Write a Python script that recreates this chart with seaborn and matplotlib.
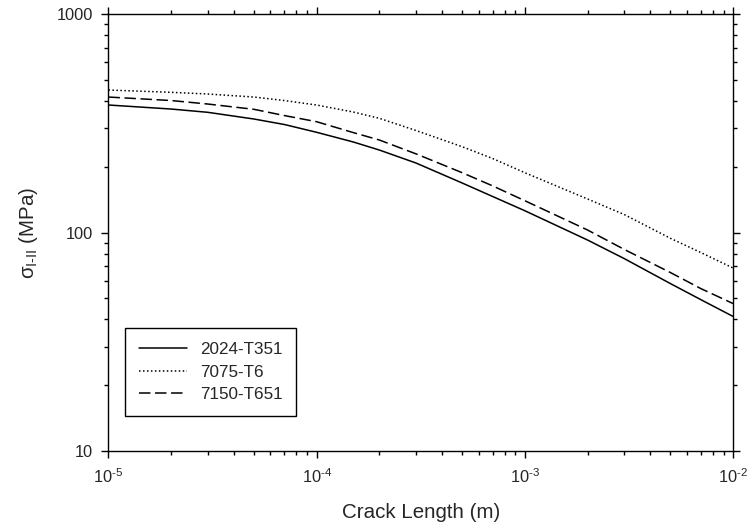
import pandas as pd
import numpy as np
import seaborn as sns
import matplotlib.pyplot as plt
from matplotlib.ticker import FuncFormatter

# crack length (m) and stress (MPa)
crack_length = [1e-5, 2e-5, 3e-5, 5e-5, 7e-5, 1e-4, 1.5e-4, 2e-4, 3e-4, 5e-4,
                7e-4, 1e-3, 2e-3, 3e-3, 5e-3, 7e-3, 1e-2]
sigma_2024 = [383.3, 367.4, 354.9, 330.7, 312.1, 287.5, 259.6, 238.5, 208.0,
              168.5, 146.2, 125.8, 92.4, 76.0, 58.4, 49.3, 41.3]
sigma_7075 = [448.9, 438.2, 430.4, 416.9, 401.8, 383.2, 356.0, 333.2, 293.0,
              247.0, 218.1, 187.8, 142.4, 120.9, 94.1, 81.0, 68.8]
sigma_7150 = [416.9, 401.8, 387.3, 366.3, 343.0, 321.4, 286.6, 265.1, 229.1,
              187.8, 163.5, 139.8, 102.7, 83.7, 65.6, 55.4, 47.3]
alloys = ['2024-T351', '7075-T6', '7150-T651']

df = pd.DataFrame({
    'a': crack_length * 3,
    'sigma': sigma_2024 + sigma_7075 + sigma_7150,
    'alloy': np.repeat(alloys, len(crack_length)),
})

sns.set_style('ticks')
plt.rcParams['font.family'] = ['Liberation Sans', 'DejaVu Sans']
plt.rcParams['mathtext.fontset'] = 'custom'
plt.rcParams['mathtext.rm'] = 'Liberation Sans'
plt.rcParams['mathtext.it'] = 'Liberation Sans:italic'
plt.rcParams['mathtext.default'] = 'regular'

fig = plt.figure(figsize=(7.47, 5.27), dpi=100)
ax = fig.add_axes([0.1452, 0.1442, 0.8361, 0.8292])
ax.set_xscale('log')
ax.set_yscale('log')

sns.lineplot(data=df, x='a', y='sigma', style='alloy', style_order=alloys,
             dashes={'2024-T351': '', '7075-T6': (1, 1.6), '7150-T651': (7.5, 3)},
             color='black', linewidth=1.1, legend=False, ax=ax)

ax.set_xlim(1e-5, 1e-2)
ax.set_ylim(10, 1000)
ax.set_yticks([10, 100, 1000])
ax.set_yticklabels(['10', '100', '1000'])
ax.xaxis.set_major_formatter(
    FuncFormatter(lambda v, p: r'10$^{\text{-%d}}$' % round(-np.log10(v))))

for s in ax.spines.values():
    s.set_visible(True)
    s.set_linewidth(1.0)
    s.set_color('black')

ax.tick_params(which='both', direction='out', top=True, right=True,
               color='black', width=1.0, labelsize=11.8)
ax.tick_params(which='major', length=5)
ax.tick_params(which='minor', length=2.6)
ax.tick_params(axis='y', which='major', pad=6)
ax.tick_params(axis='x', which='major', pad=7)

ax.set_xlabel('Crack Length (m)', fontsize=14.8, labelpad=12)
ax.set_ylabel(r'σ$_{\text{I-II}}$ (MPa)', fontsize=14.8, labelpad=12)

leg = ax.legend(ax.get_lines(), alloys, loc='upper left',
                bbox_to_anchor=(0.027, 0.281), fontsize=12.3,
                frameon=True, fancybox=False, framealpha=1,
                edgecolor='black', handlelength=2.8, handletextpad=0.75,
                labelspacing=0.45, borderpad=0.8, borderaxespad=0)
leg.get_frame().set_linewidth(1.0)

fig.savefig('out.png', dpi=100)
